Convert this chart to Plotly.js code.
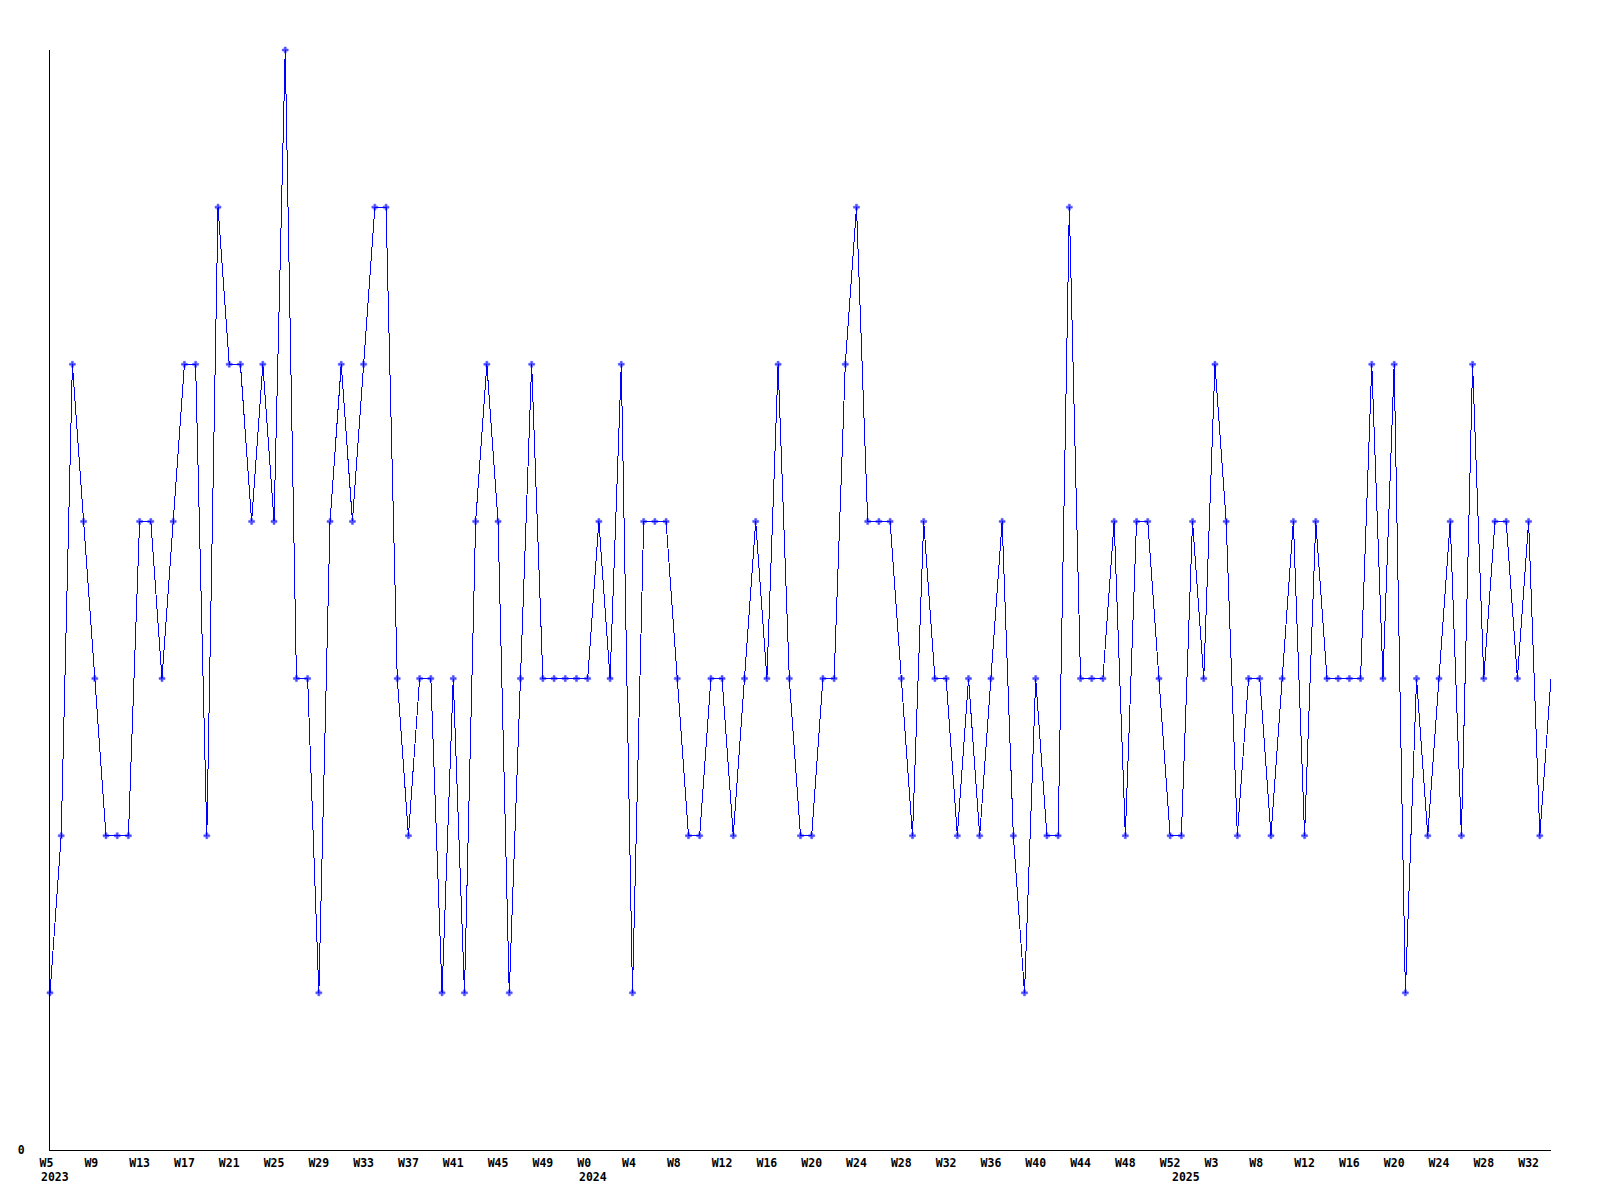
<!DOCTYPE html>
<html>
<head>
<meta charset="utf-8">
<script src="https://cdn.plot.ly/plotly-3.0.1.min.js"></script>
<style>
html,body{margin:0;padding:0;background:#fff;}
#chart{width:1600px;height:1200px;}
#chart .scatterlayer path.js-line{shape-rendering:crispEdges;}
</style>
</head>
<body>
<div id="chart"></div>
<script>
// Weekly values, W5 2023 .. 2025
const values = [
  1,2,5,4,3,2,2,2,4,4,
  3,4,5,5,2,6,5,5,4,5,
  4,7,3,3,1,4,5,4,5,6,
  6,3,2,3,3,1,3,1,4,5,
  4,1,3,5,3,3,3,3,3,4,
  3,5,1,4,4,4,3,2,2,3,
  3,2,3,4,3,5,3,2,2,3,
  3,5,6,4,4,4,3,2,4,3,
  3,2,3,2,3,4,2,1,3,2,
  2,6,3,3,3,4,2,4,4,3,
  2,2,4,3,5,4,2,3,3,2,
  3,4,2,4,3,3,3,3,5,3,
  5,1,3,2,3,4,2,5,3,4,
  4,3,4,2,3
];
// Tick labels, one every 4 weeks starting at the first week
const weekLabels = ["W5","W9","W13","W17","W21","W25","W29","W33","W37","W41","W45","W49",
  "W0","W4","W8","W12","W16","W20","W24","W28","W32","W36","W40","W44","W48","W52",
  "W3","W8","W12","W16","W20","W24","W28","W32"];
const years = ["2023","2024","2025"];
const yearFirstWeek = [0,48,101];
const yTickVals = [0];
const yTickText = ["0"];

const idx = values.map((v,i)=>i);
const tickStep = 4;
const tickVals = weekLabels.map((w,i)=>i*tickStep);
const pad = s => s + "\u00A0".repeat(Math.max(0,3-s.length));
const tickText = weekLabels.map(pad);
const markerSizes = values.map((v,i)=> i===values.length-1 ? 0 : 5);

const font = {family:"DejaVu Sans Mono, monospace", size:11.5, color:"#000", weight:"bold"};

const trace = {
  x: idx, y: values, type:"scatter", mode:"lines+markers",
  line:{color:"#0000ff", width:1},
  marker:{symbol:"cross", size:markerSizes, color:"#0000ff", line:{width:0.5, color:"#0000ff"}},
  cliponaxis:false, hoverinfo:"skip"
};

const annotations = years.map((y,i)=>({
  x: yearFirstWeek[i], xref:"x", y:0, yref:"paper",
  text:y, showarrow:false, xanchor:"left", yanchor:"top",
  xshift:-11, yshift:-18, font:font
}));

const layout = {
  width:1600, height:1200,
  margin:{l:50, r:49, t:50, b:50},
  paper_bgcolor:"#fff", plot_bgcolor:"#fff",
  showlegend:false,
  font:font,
  xaxis:{
    range:[0, values.length-1], showgrid:false, zeroline:false,
    showline:true, linecolor:"#000", linewidth:1,
    ticks:"", tickmode:"array", tickvals:tickVals, ticktext:tickText,
    tickfont:font, ticklabelstandoff:2, fixedrange:true
  },
  yaxis:{
    range:[0,7], showgrid:false, zeroline:false,
    showline:true, linecolor:"#000", linewidth:1,
    ticks:"", tickmode:"array", tickvals:yTickVals, ticktext:yTickText,
    tickfont:font, ticklabelstandoff:22, fixedrange:true
  },
  annotations:annotations
};

Plotly.newPlot("chart",[trace],layout,{staticPlot:true, displayModeBar:false});
</script>
</body>
</html>
